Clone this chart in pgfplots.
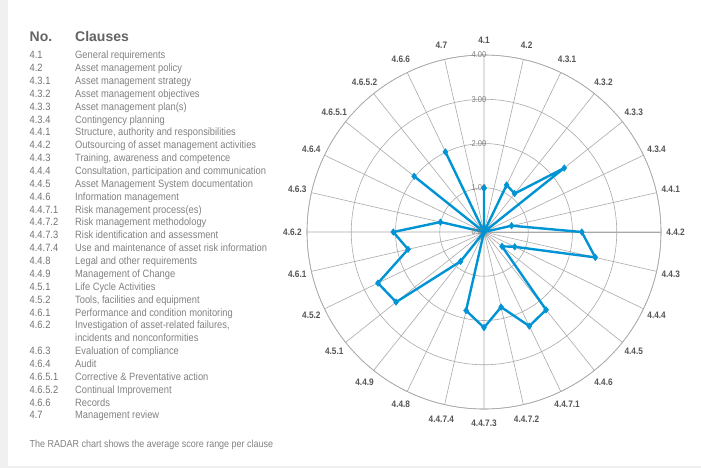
\documentclass[border=0pt]{standalone}
\usepackage{fontspec}
\setmainfont{Liberation Sans}[FakeStretch=0.88]
\newfontfamily\hdfont{Liberation Sans}
\usepackage{pgfplots}
\pgfplotsset{compat=1.18}
\usepgfplotslibrary{polar}
\definecolor{radblue}{RGB}{0,148,212}
\definecolor{gridgray}{RGB}{170,170,170}
\definecolor{txtgray}{RGB}{130,130,130}
\definecolor{numgray}{RGB}{115,115,115}
\definecolor{hdgray}{RGB}{100,100,100}
\definecolor{lblgray}{RGB}{85,85,85}
\definecolor{bggray}{RGB}{240,240,240}
\newcommand\cl[3]{%
  \node[anchor=base west,inner sep=0,text=numgray,font=\fontsize{10.6}{12}\selectfont] at (29.5pt,{-58.8pt-#1*12.86pt}) {#2};
  \node[anchor=base west,inner sep=0,text=txtgray,font=\fontsize{10.6}{12}\selectfont] at (75pt,{-58.8pt-#1*12.86pt}) {#3};}
\begin{document}
\begin{tikzpicture}
\fill[bggray] (0,0) rectangle (701pt,-468pt);
\fill[white] (8pt,0) rectangle (701pt,-466pt);
\node[anchor=base west,inner sep=0,text=hdgray,font=\hdfont\bfseries\fontsize{14}{16}\selectfont] at (29.5pt,-41.7pt) {No.};
\node[anchor=base west,inner sep=0,text=hdgray,font=\hdfont\bfseries\fontsize{14}{16}\selectfont] at (75pt,-41.7pt) {Clauses};
\cl{0}{4.1}{General requirements}
\cl{1}{4.2}{Asset management policy}
\cl{2}{4.3.1}{Asset management strategy}
\cl{3}{4.3.2}{Asset management objectives}
\cl{4}{4.3.3}{Asset management plan(s)}
\cl{5}{4.3.4}{Contingency planning}
\cl{6}{4.4.1}{Structure, authority and responsibilities}
\cl{7}{4.4.2}{Outsourcing of asset management activities}
\cl{8}{4.4.3}{Training, awareness and competence}
\cl{9}{4.4.4}{Consultation, participation and communication}
\cl{10}{4.4.5}{Asset Management System documentation}
\cl{11}{4.4.6}{Information management}
\cl{12}{4.4.7.1}{Risk management process(es)}
\cl{13}{4.4.7.2}{Risk management methodology}
\cl{14}{4.4.7.3}{Risk identification and assessment}
\cl{15}{4.4.7.4}{Use and maintenance of asset risk information}
\cl{16}{4.4.8}{Legal and other requirements}
\cl{17}{4.4.9}{Management of Change}
\cl{18}{4.5.1}{Life Cycle Activities}
\cl{19}{4.5.2}{Tools, facilities and equipment}
\cl{20}{4.6.1}{Performance and condition monitoring}
\cl{21}{4.6.2}{Investigation of asset-related failures,}
\cl{22}{}{incidents and nonconformities}
\cl{23}{4.6.3}{Evaluation of compliance}
\cl{24}{4.6.4}{Audit}
\cl{25}{4.6.5.1}{Corrective \& Preventative action}
\cl{26}{4.6.5.2}{Continual Improvement}
\cl{27}{4.6.6}{Records}
\cl{28}{4.7}{Management review}
\node[anchor=base west,inner sep=0,text=txtgray,font=\fontsize{10.2}{12}\selectfont] at (29.5pt,-447.7pt) {The RADAR chart shows the average score range per clause};
\begin{polaraxis}[
  at={(484pt,-232pt)}, anchor=origin,
  width=354pt, height=354pt, scale only axis,
  ymin=0, ymax=4, ytick={1,2,3,4}, yticklabels={},
  xtick={0,12.857,25.714,38.571,51.429,64.286,77.143,90,102.857,115.714,128.571,141.429,154.286,167.143,180,192.857,205.714,218.571,231.429,244.286,257.143,270,282.857,295.714,308.571,321.429,334.286,347.143},
  xticklabels={},
  xmajorgrids, ymajorgrids,
  major grid style={draw=gridgray, line width=0.6pt},
  axis line style={draw=gridgray, line width=0.6pt},
  major tick length=0pt,
  clip=false,
]
\addplot[radblue, line width=2.4pt, line join=round, mark=diamond*, mark size=3.3pt, mark options={solid, fill=radblue, draw=radblue, line width=0.5pt}] coordinates {
(90,0.99) (77.143,0) (64.286,1.18) (51.429,1.11) (38.571,2.32) (25.714,0) (12.857,0.64)
(0,2.21) (347.143,2.58) (334.286,0.77) (321.429,0.52) (308.571,2.25) (295.714,2.36) (282.857,1.74)
(270,2.16) (257.143,1.82) (244.286,0) (231.429,0.85) (218.571,2.54) (205.714,2.66) (192.857,1.76)
(180,2.05) (167.143,1.01) (154.286,0) (141.429,2.02) (128.571,0) (115.714,2.01) (102.857,0) (90,0.99)};
\tikzset{rl/.style={text=txtgray, font=\fontsize{8.5}{9}\selectfont, inner sep=0.5pt, xshift=-5pt}}
\node[rl] at (axis cs:90,0) {0.00};
\node[rl] at (axis cs:90,1) {1.00};
\node[rl] at (axis cs:90,2) {2.00};
\node[rl] at (axis cs:90,3) {3.00};
\node[rl] at (axis cs:90,4) {4.00};
\tikzset{sl/.style={text=lblgray, font=\bfseries\fontsize{9.4}{10}\selectfont, inner sep=0pt}}
\node[sl] at (axis cs:90,4.33) {4.1};
\node[sl] at (axis cs:77.143,4.33) {4.2};
\node[sl] at (axis cs:64.286,4.33) {4.3.1};
\node[sl] at (axis cs:51.429,4.33) {4.3.2};
\node[sl] at (axis cs:38.571,4.33) {4.3.3};
\node[sl] at (axis cs:25.714,4.33) {4.3.4};
\node[sl] at (axis cs:12.857,4.33) {4.4.1};
\node[sl] at (axis cs:0,4.33) {4.4.2};
\node[sl] at (axis cs:347.143,4.33) {4.4.3};
\node[sl] at (axis cs:334.286,4.33) {4.4.4};
\node[sl] at (axis cs:321.429,4.33) {4.4.5};
\node[sl] at (axis cs:308.571,4.33) {4.4.6};
\node[sl] at (axis cs:295.714,4.33) {4.4.7.1};
\node[sl] at (axis cs:282.857,4.33) {4.4.7.2};
\node[sl] at (axis cs:270,4.33) {4.4.7.3};
\node[sl] at (axis cs:257.143,4.33) {4.4.7.4};
\node[sl] at (axis cs:244.286,4.33) {4.4.8};
\node[sl] at (axis cs:231.429,4.33) {4.4.9};
\node[sl] at (axis cs:218.571,4.33) {4.5.1};
\node[sl] at (axis cs:205.714,4.33) {4.5.2};
\node[sl] at (axis cs:192.857,4.33) {4.6.1};
\node[sl] at (axis cs:180,4.33) {4.6.2};
\node[sl] at (axis cs:167.143,4.33) {4.6.3};
\node[sl] at (axis cs:154.286,4.33) {4.6.4};
\node[sl] at (axis cs:141.429,4.33) {4.6.5.1};
\node[sl] at (axis cs:128.571,4.33) {4.6.5.2};
\node[sl] at (axis cs:115.714,4.33) {4.6.6};
\node[sl] at (axis cs:102.857,4.33) {4.7};
\end{polaraxis}
\pgfresetboundingbox
\path[use as bounding box] (0,0) rectangle (701pt,-468pt);
\end{tikzpicture}
\end{document}
